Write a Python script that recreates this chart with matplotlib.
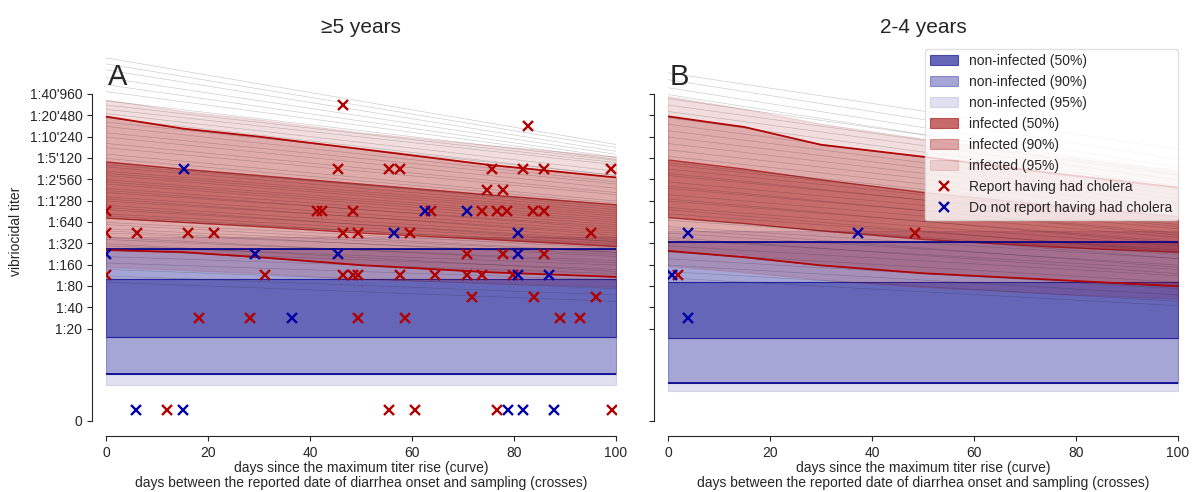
import numpy as np
import matplotlib
matplotlib.use("Agg")
import matplotlib.pyplot as plt
import seaborn as sns

sns.set_style("ticks")
plt.rcParams['font.family'] = ['Liberation Sans', 'DejaVu Sans']

# all curve values are log2(titer)
days = [0, 15, 30, 50, 75, 100]

# >=5 years, infected bands
old_inf_lo95 = [7.22, 7.07, 6.92, 6.65, 6.47, 6.28]
old_inf_lo90 = [8.01, 7.91, 7.67, 7.30, 6.97, 6.75]
old_inf_lo50 = [9.52, 9.32, 9.12, 8.82, 8.52, 8.19]
old_inf_hi50 = [12.16, 11.82, 11.52, 11.12, 10.62, 10.15]
old_inf_hi90 = [14.26, 13.70, 13.32, 12.74, 12.00, 11.41]
old_inf_hi95 = [15.05, 14.52, 14.12, 13.52, 12.92, 12.39]
# >=5 years, non-infected (flat)
old_non = {"lo95": 1.70, "lo90": 2.22, "lo50": 3.95, "hi50": 6.65, "hi90": 8.05, "hi95": 8.60}

# 2-4 years, infected bands
young_inf_lo95 = [7.26, 6.97, 6.62, 6.27, 5.97, 5.72]
young_inf_lo90 = [7.97, 7.67, 7.29, 6.92, 6.62, 6.31]
young_inf_lo50 = [9.55, 9.27, 8.92, 8.52, 8.17, 7.92]
young_inf_hi50 = [12.25, 11.82, 11.32, 10.72, 10.12, 9.59]
young_inf_hi90 = [14.27, 13.77, 12.94, 12.38, 11.62, 10.93]
young_inf_hi95 = [15.21, 14.62, 13.92, 13.22, 12.42, 11.72]
young_non = {"lo95": 1.38, "lo90": 1.80, "lo50": 3.90, "hi50": 6.51, "hi90": 8.38, "hi95": 8.90}

# individual posterior trajectories (value at day 0, value at day 100)
old_traj_start = [17.01, 16.73, 16.45, 16.08, 15.75, 15.43,
                  15.0, 14.8, 14.6, 14.4, 14.2, 14.0, 13.8, 13.5, 13.3, 13.0, 12.8, 12.5,
                  12.3, 12.1, 11.9, 11.7, 11.5, 11.3, 11.1, 10.9, 10.7, 10.5, 10.3, 10.1,
                  9.9, 9.7, 9.5, 9.3, 9.0, 8.8, 8.5, 8.2, 8.0, 7.7, 7.4, 7.1, 6.8, 6.5,
                  12.0, 11.6, 11.2, 10.8, 10.4, 10.0, 9.6, 9.2, 8.9, 8.6, 8.3]
old_traj_end = [12.95, 12.81, 12.63, 12.49, 12.35, 12.25,
                12.2, 12.1, 12.0, 11.7, 11.5, 11.5, 11.2, 11.1, 10.9, 10.7, 10.6, 10.3,
                10.2, 10.0, 9.9, 9.8, 9.6, 9.5, 9.3, 9.2, 9.1, 8.9, 8.8, 8.6,
                8.5, 8.4, 8.3, 8.1, 7.9, 7.8, 7.5, 7.3, 7.1, 6.9, 6.6, 6.2, 5.9, 5.6,
                10.1, 9.7, 9.4, 9.0, 8.7, 8.4, 8.2, 7.9, 7.7, 7.4, 7.0]
young_traj_start = [16.31, 15.99, 15.61, 15.29,
                    15.1, 14.8, 14.5, 14.2, 13.9, 13.6, 13.3, 13.0, 12.7, 12.4, 12.1, 11.8,
                    11.5, 11.2, 10.9, 10.6, 10.3, 10.0, 9.7, 9.4, 9.1, 8.8, 8.5, 8.2,
                    7.9, 7.6, 7.3, 7.0, 6.7,
                    12.0, 11.6, 11.0, 10.4, 9.9, 9.5, 9.0, 8.6]
young_traj_end = [12.72, 12.25, 11.88, 11.55,
                  11.7, 11.5, 11.3, 11.0, 10.8, 10.6, 10.4, 10.2, 10.0, 9.8, 9.6, 9.4,
                  9.2, 9.0, 8.8, 8.6, 8.4, 8.2, 8.0, 7.8, 7.6, 7.3, 7.1, 6.8,
                  6.5, 6.2, 5.9, 5.6, 5.4,
                  9.5, 9.1, 8.7, 8.3, 7.9, 7.6, 7.2, 6.9]

# measured sera: days since onset and titer
old_rep_days = [0, 0, 0, 6, 16.1, 21.2, 18.2, 28.2, 31.2, 41.3, 42.3, 45.4, 46.5, 46.5, 46.5,
                48.5, 48.5, 49.5, 49.5, 49.5, 55.5, 57.6, 57.6, 58.6, 59.6, 63.7, 64.6, 70.7,
                70.7, 71.7, 73.7, 73.7, 74.8, 75.7, 76.6, 77.9, 77.8, 78.7, 79.8, 81.8, 82.8,
                83.8, 83.9, 85.9, 85.9, 85.9, 89.0, 92.9, 95.0, 96.0, 99]
old_rep_titer = [640, 320, 80, 320, 320, 320, 20, 20, 80, 640, 640, 2560, 20480, 320, 80,
                 640, 80, 320, 80, 20, 2560, 2560, 80, 20, 320, 640, 80, 160,
                 80, 40, 640, 80, 1280, 2560, 640, 1280, 160, 640, 80, 2560, 10240,
                 640, 40, 2560, 640, 160, 20, 20, 320, 40, 2560]
old_rep_zero_days = [12.0, 55.5, 60.5, 76.7, 99.2]
old_norep_days = [0, 15.2, 29.2, 36.4, 45.4, 56.5, 62.5, 70.7, 80.8, 80.8, 80.8, 86.9]
old_norep_titer = [160, 2560, 160, 20, 160, 320, 640, 640, 320, 160, 80, 80]
old_norep_zero_days = [5.9, 15.1, 78.8, 81.7, 87.8]

young_rep_days = [2.0, 48.4]
young_rep_titer = [80, 320]
young_rep_zero_days = []
young_norep_days = [0.8, 4.0, 37.3, 4.0]
young_norep_titer = [80, 320, 320, 20]
young_norep_zero_days = []

tick_titers = [20, 40, 80, 160, 320, 640, 1280, 2560, 5120, 10240, 20480, 40960]
tick_labels = ["1:20", "1:40", "1:80", "1:160", "1:320", "1:640", "1:1'280", "1:2'560",
               "1:5'120", "1:10'240", "1:20'480", "1:40'960"]

blue = (0.0, 0.0, 0.545)
red = (0.63, 0.0, 0.0)
band_alpha = {"50": 0.6, "90": 0.35, "95": 0.12}
red_alpha = {"50": 0.58, "90": 0.33, "95": 0.13}


def drawPanel(ax, inf, non, traj_s, traj_e, rep, norep):
    lo95, lo90, lo50, hi50, hi90, hi95 = inf
    x = np.array([0, 100])
    h = {}
    # non-infected, constant bands, drawn without overlap
    def flat(a, b, alpha, label=None):
        return ax.fill_between(x, [non[a]] * 2, [non[b]] * 2, color=blue, alpha=alpha,
                               lw=0.8, zorder=1, label=label)
    h["n95"] = flat("lo95", "lo90", band_alpha["95"], "non-infected (95%)")
    flat("hi90", "hi95", band_alpha["95"])
    h["n90"] = flat("lo90", "lo50", band_alpha["90"], "non-infected (90%)")
    flat("hi50", "hi90", band_alpha["90"])
    h["n50"] = flat("lo50", "hi50", band_alpha["50"], "non-infected (50%)")

    def band(a, b, alpha, label=None):
        return ax.fill_between(days, a, b, color=red, alpha=alpha, lw=0.8, zorder=2, label=label)
    h["i95"] = band(lo95, lo90, red_alpha["95"], "infected (95%)")
    band(hi90, hi95, red_alpha["95"])
    h["i90"] = band(lo90, lo50, red_alpha["90"], "infected (90%)")
    band(hi50, hi90, red_alpha["90"])
    h["i50"] = band(lo50, hi50, red_alpha["50"], "infected (50%)")

    for s, e in zip(traj_s, traj_e):
        ax.plot(x, [s, e], color="0.1", lw=0.4, alpha=0.26, zorder=3)

    ax.plot(x, [non["lo90"]] * 2, color="#00008b", lw=1.2, zorder=4)
    ax.plot(x, [non["hi90"]] * 2, color="#00008b", lw=1.2, zorder=4)
    ax.plot(days, lo90, color="#b00000", lw=1.2, zorder=4)
    ax.plot(days, hi90, color="#b00000", lw=1.2, zorder=4)

    rd, rt, rz = rep
    nd, nt, nz = norep
    ry = list(np.log2(rt) + 0.5) + [0.5] * len(rz)
    ny = list(np.log2(nt) + 0.5) + [0.5] * len(nz)
    h["rep"], = ax.plot(list(rd) + list(rz), ry, "x", color="#b00000", ms=7, mew=1.7,
                        zorder=5, label="Report having had cholera")
    h["norep"], = ax.plot(list(nd) + list(nz), ny, "x", color="#0000aa", ms=7, mew=1.7,
                          zorder=5, label="Do not report having had cholera")

    ax.set_xlim(0, 100)
    ax.set_ylim(-0.05, 17.8)
    ax.set_xticks([0, 20, 40, 60, 80, 100])
    ax.set_yticks([0] + list(np.log2(tick_titers)))
    ax.tick_params(labelsize=10)
    ax.set_xlabel("days since the maximum titer rise (curve)\n"
                  "days between the reported date of diarrhea onset and sampling (crosses)",
                  fontsize=10, labelpad=1, linespacing=1.05)
    return h


fig = plt.figure(figsize=(11.95, 4.92), dpi=100)
ax1 = fig.add_axes([0.0887, 0.1423, 0.4268, 0.7744])
ax2 = fig.add_axes([0.559, 0.1423, 0.4268, 0.7744])

drawPanel(ax1, (old_inf_lo95, old_inf_lo90, old_inf_lo50, old_inf_hi50, old_inf_hi90, old_inf_hi95),
          old_non, old_traj_start, old_traj_end,
          (old_rep_days, old_rep_titer, old_rep_zero_days),
          (old_norep_days, old_norep_titer, old_norep_zero_days))
h = drawPanel(ax2, (young_inf_lo95, young_inf_lo90, young_inf_lo50, young_inf_hi50, young_inf_hi90, young_inf_hi95),
              young_non, young_traj_start, young_traj_end,
              (young_rep_days, young_rep_titer, young_rep_zero_days),
              (young_norep_days, young_norep_titer, young_norep_zero_days))

ax1.set_yticklabels(["0"] + tick_labels)
ax2.set_yticklabels([])
ax1.set_ylabel("vibriocidal titer", fontsize=10, labelpad=5)

ax1.set_title("\u22655 years", fontsize=15, pad=6)
ax2.set_title("2-4 years", fontsize=15, pad=6)
ax1.text(0.004, 0.905, "A", transform=ax1.transAxes, fontsize=21, va="center", ha="left", color="0.15")
ax2.text(0.004, 0.905, "B", transform=ax2.transAxes, fontsize=21, va="center", ha="left", color="0.15")

order = ["n50", "n90", "n95", "i50", "i90", "i95", "rep", "norep"]
ax2.legend([h[k] for k in order], [h[k].get_label() for k in order], loc="upper right",
           bbox_to_anchor=(1.0, 0.98), borderaxespad=0, fontsize=10, frameon=True,
           framealpha=0.8, edgecolor="0.85")

sns.despine(fig=fig, offset=10, trim=True)

fig.savefig("out.png", dpi=100)
